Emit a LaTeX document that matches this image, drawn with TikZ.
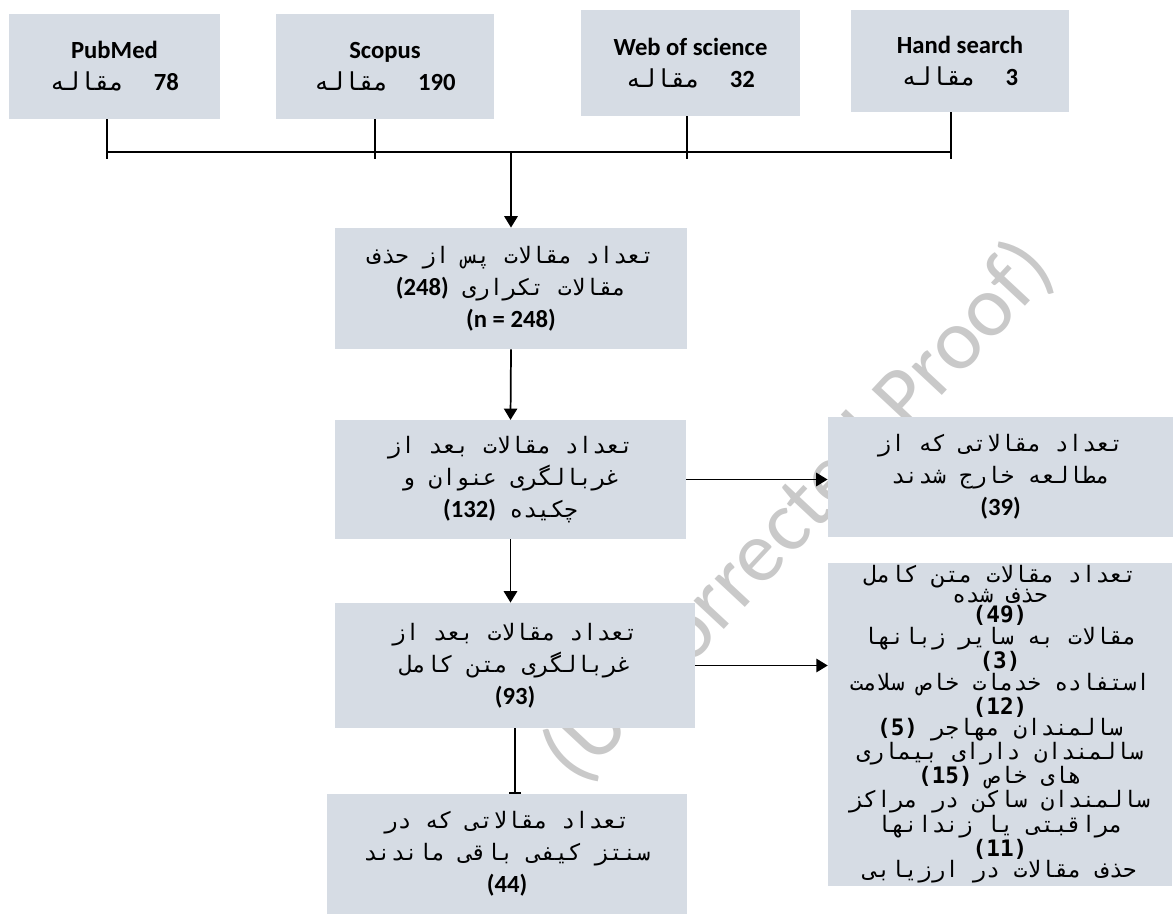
\documentclass[tikz,border=0pt]{standalone}
\usepackage{fontspec}
\setmainfont{Carlito}
\newfontfamily\farsifont[Script=Arabic]{DejaVu Sans Mono}
\usetikzlibrary{arrows.meta}
\TeXXeTstate=1
\definecolor{boxfill}{HTML}{D6DCE4}
\definecolor{proofgray}{HTML}{C9C9C9}
\newcommand{\fa}[1]{{\farsifont\beginR #1\endR}}
\newcommand{\nb}[1]{{\normalfont\bfseries\fontsize{18.5}{24}\selectfont\beginL #1\endL}}
\newcommand{\nm}[1]{{\bfseries\beginL #1\endL}}

\begin{document}
\begin{tikzpicture}[x=0.75pt,y=-0.75pt,
    box/.style={fill=boxfill,align=center,inner sep=0pt,font=\fontsize{17}{24}\selectfont},
    src/.style={box,font=\fontsize{18.5}{24}\selectfont},
    flow/.style={line width=1.3pt,-{Triangle[width=10pt,length=8.5pt]}},
    tap/.style={line width=0.8pt}]
  \useasboundingbox (0,0) rectangle (1176,916);
  \node[rotate=47,text=proofgray,font=\fontsize{65}{65}\selectfont] (proof) at (799,512) {(Uncorrected Proof)};
  \node[src,minimum width=158pt,minimum height=79pt] (pubmed) at (114.5,66.5) {\textbf{PubMed}\\\fa{\nb{78}\ \ مقاله}};
  \node[src,minimum width=163.5pt,minimum height=79pt] (scopus) at (385,66.5) {\textbf{Scopus}\\\fa{\nb{190}\ \ مقاله}};
  \node[src,minimum width=164pt,minimum height=79.5pt] (wos) at (690.5,63) {\textbf{Web of science}\\\fa{\nb{32}\ \ مقاله}};
  \node[src,minimum width=163.5pt,minimum height=76.5pt] (hand) at (960,61) {\textbf{Hand search}\\\fa{\nb{3}\ \ مقاله}};
  \node[box,minimum width=264pt,minimum height=91pt] (dup) at (511,288.5) {\fa{تعداد مقالات پس از حذف}\\\fa{مقالات تکراری \nb{(248)}}\\\nb{(n = 248)}};
  \node[box,minimum width=263pt,minimum height=89pt] (screen) at (510.5,479.5) {\fa{تعداد مقالات بعد از}\\\fa{غربالگری عنوان و}\\\fa{چکیده \nb{(132)}}};
  \node[box,minimum width=270pt,minimum height=94pt] (full) at (515,665.5) {\fa{تعداد مقالات بعد از}\\\fa{غربالگری متن کامل}\\\nb{(93)}};
  \node[box,minimum width=270pt,minimum height=90pt] (final) at (507,854) {\fa{تعداد مقالاتی که در}\\\fa{سنتز کیفی باقی ماندند}\\\nb{(44)}};
  \node[box,minimum width=259pt,minimum height=90pt] (excl) at (1000.5,477) {\fa{تعداد مقالاتی که از}\\\fa{مطالعه خارج شدند}\\\nb{(39)}};
  \node[box,minimum width=258pt,minimum height=242pt,font=\fontsize{17}{15}\selectfont\farsifont] (exclft) at (1000,724.5) {\fa{تعداد مقالات متن کامل}\\\fa{حذف شده}\\\nm{(49)}\\\fa{مقالات به سایر زبانها}\\\nm{(3)}\\\fa{استفاده خدمات خاص سلامت}\\\nm{(12)}\\\fa{سالمندان مهاجر \nm{(5)}}\\\fa{سالمندان دارای بیماری}\\\fa{های خاص \nm{(15)}}\\\fa{سالمندان ساکن در مراکز}\\\fa{مراقبتی یا زندانها}\\\nm{(11)}\\\fa{حذف مقالات در ارزیابی}};
  \coordinate (t1) at (107,152);
  \coordinate (t2) at (375,152);
  \coordinate (t3) at (687,152);
  \coordinate (t4) at (951,152);
  \draw[tap] (pubmed.south -| t1) -- (t1) -- ++(0,7);
  \draw[tap] (scopus.south -| t2) -- (t2) -- ++(0,7);
  \draw[tap] (wos.south -| t3) -- (t3) -- ++(0,7);
  \draw[tap] (hand.south -| t4) -- (t4) -- ++(0,7);
  \draw[tap] (t1) -- (t4);
  \draw[flow] (t1 -| dup.north) -- (dup.north);
  \draw[flow] (dup.south) -- (screen.north);
  \draw[flow] (screen.east) -- (screen.east -| excl.west);
  \draw[flow] (screen.south) -- (screen.south |- full.north);
  \draw[flow] (full.east) -- (full.east -| exclft.west);
  \draw[line width=1pt,-{Bar[width=9pt]}] (full.south) -- (full.south |- final.north);
\end{tikzpicture}
\end{document}
